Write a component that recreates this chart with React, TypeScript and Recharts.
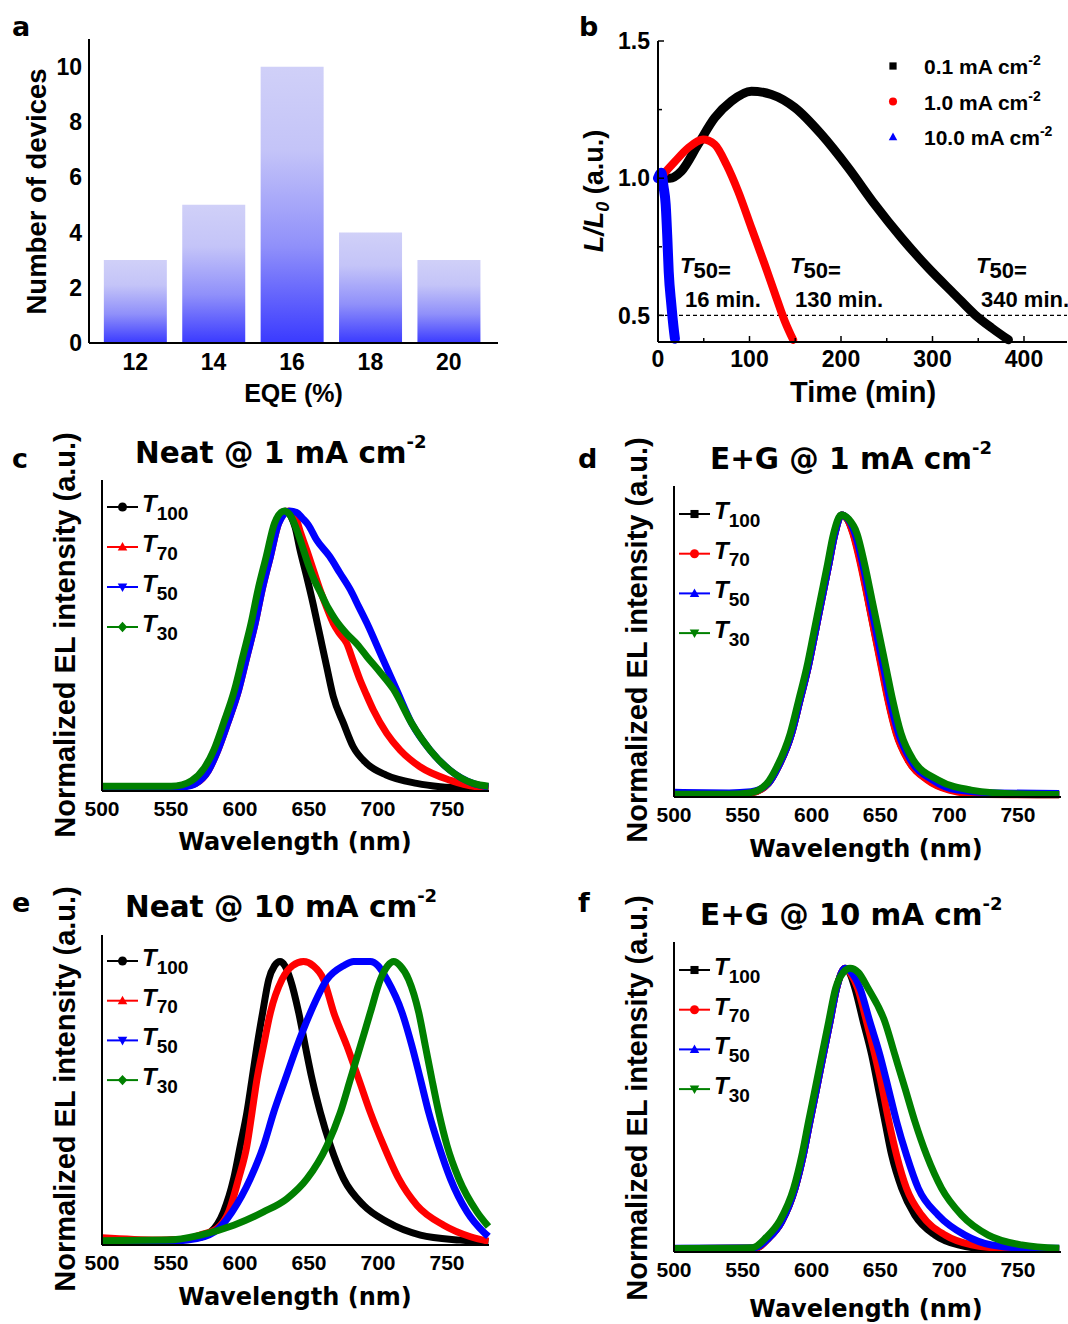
import React from 'react';
import { BarChart, Bar, LineChart, Line, XAxis, YAxis, ReferenceLine, Legend } from 'recharts';

type Pt = [number, number];
const pts = (a: Pt[]) => a.map(([x, y]) => ({ x, y }));

const ARIAL = '"Liberation Sans", Arial, Helvetica, sans-serif';
const DEJAVU = '"DejaVu Sans", Verdana, sans-serif';

// ---------------- Panel a ----------------
const eqeBins = ['12', '14', '16', '18', '20'];
const deviceCounts = [3, 5, 10, 4, 3];
const aYTicks = [0, 2, 4, 6, 8, 10];

// ---------------- Panel b ----------------
const bCurrents = ['0.1', '1.0', '10.0'];
const bColors = ['#000000', '#ff0000', '#0000ff'];
const bShapes = ['square', 'circle', 'triangleUp'];
const b01: Pt[] = [[8, 1.0], [13, 1.0], [25.6, 1.026], [43.8, 1.123], [62, 1.22], [80.3, 1.281], [102.1, 1.317], [124, 1.305], [149.6, 1.257], [178.7, 1.159], [207.9, 1.038], [237, 0.904], [266.3, 0.782], [295.4, 0.673], [324.6, 0.575], [346.5, 0.502], [364.8, 0.454], [383, 0.411]];
const b10: Pt[] = [[2, 1.0], [18.3, 1.06], [32.9, 1.11], [49.3, 1.141], [62, 1.123], [74.8, 1.05], [87.6, 0.952], [102.1, 0.819], [116.7, 0.685], [129.5, 0.563], [138.7, 0.478], [147.7, 0.411]];
const b100: Pt[] = [[0, 1.0], [3.7, 1.02], [6, 0.97], [8.4, 0.904], [10.2, 0.782], [11.7, 0.66], [14.6, 0.539], [17.5, 0.442], [18.5, 0.415]];
const bXTicks = [0, 50, 100, 150, 200, 250, 300, 350, 400];
const bYTicks = [0.5, 0.75, 1.0, 1.25, 1.5];
const bT50 = ['16 min.', '130 min.', '340 min.'];

// ---------------- Spectra (c-f) ----------------
const wlTicks = [500, 550, 600, 650, 700, 750];

const cT100: Pt[] = [[500, 0.005], [540, 0.005], [556, 0.01], [566, 0.02], [576, 0.07], [583, 0.14], [590, 0.236], [598, 0.356], [604, 0.476], [610, 0.596], [615, 0.716], [621, 0.836], [627, 0.956], [633, 1.0], [637, 0.98], [640, 0.94], [643.5, 0.86], [648, 0.77], [653, 0.665], [658, 0.55], [662.8, 0.44], [667.6, 0.332], [675, 0.236], [682, 0.152], [691.8, 0.092], [706, 0.05], [728, 0.02], [745, 0.008], [764, 0.003], [780, 0.002]];
const cT70: Pt[] = [[500, 0.005], [550, 0.005], [560, 0.01], [568, 0.02], [577, 0.065], [584, 0.14], [591, 0.236], [599, 0.356], [605, 0.476], [611, 0.596], [616, 0.716], [622, 0.836], [628, 0.956], [635, 1.0], [640, 0.98], [644, 0.92], [648.3, 0.86], [653, 0.79], [658, 0.716], [663, 0.65], [667.6, 0.596], [672, 0.56], [677.3, 0.524], [682, 0.46], [687, 0.392], [691.5, 0.34], [696.6, 0.284], [706.3, 0.2], [716, 0.14], [730.4, 0.08], [752, 0.032], [771.5, 0.008], [780, 0.004]];
const cT50: Pt[] = [[500, 0.003], [550, 0.004], [560, 0.008], [568, 0.02], [577, 0.065], [584, 0.14], [591, 0.236], [599, 0.356], [605, 0.476], [611, 0.596], [616, 0.716], [622, 0.836], [628, 0.956], [636, 1.0], [641, 0.995], [645, 0.975], [649.5, 0.95], [655.5, 0.896], [665, 0.836], [672.5, 0.776], [680, 0.716], [686, 0.656], [692, 0.596], [702.7, 0.476], [713.5, 0.356], [724.4, 0.236], [737.7, 0.14], [752, 0.068], [769, 0.02], [780, 0.008]];
const cT30: Pt[] = [[500, 0.01], [550, 0.01], [558, 0.015], [565, 0.03], [574, 0.075], [581, 0.14], [588, 0.236], [596, 0.356], [602, 0.476], [608, 0.596], [613, 0.716], [619, 0.836], [625, 0.956], [632, 1.0], [637, 0.98], [642, 0.92], [646, 0.86], [650, 0.8], [654, 0.75], [659, 0.7], [664, 0.65], [669, 0.61], [677, 0.56], [685, 0.52], [692, 0.476], [701.5, 0.42], [711, 0.36], [724.4, 0.236], [737.7, 0.14], [752, 0.068], [769, 0.02], [780, 0.01]];

const dT100: Pt[] = [[500, 0.005], [540, 0.005], [556, 0.01], [568.6, 0.044], [575.8, 0.103], [585.5, 0.222], [591.6, 0.34], [597.6, 0.459], [602.5, 0.578], [607.3, 0.696], [612.2, 0.815], [617, 0.934], [621.8, 1.0], [626, 0.985], [630.3, 0.934], [636.4, 0.815], [641.2, 0.696], [646, 0.578], [651, 0.459], [655.8, 0.34], [661.8, 0.222], [670.3, 0.127], [684.8, 0.056], [701.8, 0.02], [728, 0.005], [780, 0.003]];
const dT70: Pt[] = [[500, 0.005], [540, 0.005], [556, 0.01], [568.6, 0.044], [575.8, 0.103], [585.5, 0.222], [591.6, 0.34], [597.6, 0.459], [602.5, 0.578], [607.3, 0.696], [612.2, 0.815], [617, 0.934], [621.8, 1.0], [626, 0.985], [630, 0.934], [636, 0.815], [641, 0.696], [645.8, 0.578], [650.6, 0.459], [655.5, 0.34], [661.5, 0.222], [670, 0.127], [684, 0.056], [700, 0.02], [725, 0.004], [780, 0.003]];
const dT50: Pt[] = [[500, 0.012], [540, 0.01], [556, 0.014], [568.6, 0.044], [575.8, 0.103], [585.5, 0.222], [591.6, 0.34], [597.6, 0.459], [602.5, 0.578], [607.3, 0.696], [612.2, 0.815], [617, 0.934], [621.8, 1.0], [626.5, 0.985], [631.5, 0.934], [637.6, 0.815], [642.4, 0.696], [647.2, 0.578], [652.2, 0.459], [657, 0.34], [663.2, 0.222], [672, 0.127], [688, 0.056], [706, 0.02], [735, 0.01], [780, 0.008]];
const dT30: Pt[] = [[500, 0.005], [540, 0.005], [555, 0.01], [567.6, 0.044], [574.8, 0.103], [584.5, 0.222], [590.6, 0.34], [596.6, 0.459], [601.5, 0.578], [606.3, 0.696], [611.2, 0.815], [616, 0.934], [621.5, 1.0], [627, 0.985], [633, 0.934], [639, 0.815], [644, 0.696], [649, 0.578], [654, 0.459], [659, 0.34], [665, 0.222], [674, 0.127], [692, 0.056], [716, 0.02], [750, 0.006], [780, 0.004]];

const eT100: Pt[] = [[500, 0.005], [547, 0.012], [569, 0.02], [578.5, 0.04], [588, 0.112], [595.4, 0.23], [600.2, 0.347], [605, 0.465], [608.7, 0.583], [612.3, 0.7], [616.4, 0.819], [620.8, 0.936], [625, 0.985], [629, 1.0], [632.5, 0.985], [636.5, 0.936], [642.5, 0.819], [647.3, 0.7], [652.2, 0.583], [658.2, 0.465], [665.5, 0.347], [675, 0.23], [689.6, 0.135], [706.5, 0.077], [730.7, 0.03], [759.7, 0.012], [780, 0.005]];
const eT70: Pt[] = [[500, 0.02], [540, 0.012], [560, 0.015], [571, 0.03], [583.3, 0.053], [591.8, 0.112], [599, 0.23], [605, 0.347], [608.7, 0.465], [612.3, 0.583], [617, 0.7], [622, 0.819], [630.4, 0.936], [638, 0.985], [646, 1.0], [653, 0.985], [660.6, 0.936], [667.9, 0.819], [677.5, 0.7], [686, 0.583], [694.4, 0.465], [704.1, 0.347], [715, 0.23], [728.3, 0.135], [747.6, 0.065], [767, 0.024], [780, 0.008]];
const eT50: Pt[] = [[500, 0.005], [540, 0.006], [568.8, 0.018], [584.5, 0.053], [594.2, 0.112], [607.5, 0.23], [617.1, 0.347], [624.4, 0.465], [632.8, 0.583], [641.3, 0.7], [651, 0.819], [663, 0.936], [675, 0.985], [682.4, 1.0], [694.4, 1.0], [700, 0.985], [706.5, 0.936], [717.4, 0.819], [724.6, 0.7], [730.7, 0.583], [736.7, 0.465], [744, 0.347], [752.4, 0.23], [764.5, 0.112], [776.6, 0.04], [780, 0.025]];
const eT30: Pt[] = [[500, 0.01], [547, 0.012], [571.3, 0.03], [595.4, 0.065], [617, 0.112], [634, 0.159], [648.6, 0.23], [663, 0.347], [672.7, 0.465], [680, 0.583], [687.2, 0.7], [694.4, 0.819], [701.7, 0.936], [707, 0.985], [711.4, 1.0], [716, 0.985], [722.2, 0.936], [729.5, 0.819], [734.3, 0.7], [739, 0.583], [744, 0.465], [750, 0.347], [758.5, 0.23], [771.7, 0.112], [780, 0.06]];

const fT100: Pt[] = [[500, 0.005], [545, 0.006], [558.9, 0.006], [568.6, 0.041], [578.2, 0.1], [588, 0.219], [594, 0.337], [598.8, 0.456], [603.7, 0.574], [608.5, 0.692], [613.4, 0.81], [618.2, 0.929], [624.3, 1.0], [628, 0.98], [631.5, 0.929], [637.6, 0.81], [643.7, 0.692], [648.5, 0.574], [653.3, 0.456], [658.2, 0.337], [665.5, 0.219], [675, 0.124], [689.7, 0.053], [706.6, 0.018], [728.4, 0.004], [780, 0.003]];
const fT70: Pt[] = [[500, 0.005], [545, 0.006], [558.9, 0.006], [568.6, 0.041], [578.2, 0.1], [588, 0.219], [594, 0.337], [598.8, 0.456], [603.7, 0.574], [608.5, 0.692], [613.4, 0.81], [618.2, 0.929], [624.3, 1.0], [628.5, 0.98], [633.5, 0.929], [640, 0.81], [646, 0.692], [651.4, 0.574], [656.2, 0.456], [661.8, 0.337], [669, 0.219], [680, 0.124], [697, 0.053], [716.3, 0.018], [740, 0.005], [780, 0.003]];
const fT50: Pt[] = [[500, 0.006], [545, 0.007], [558.9, 0.008], [568.6, 0.041], [578.2, 0.1], [588, 0.219], [594, 0.337], [598.8, 0.456], [603.7, 0.574], [608.5, 0.692], [613.4, 0.81], [618.2, 0.929], [624.3, 1.0], [629, 0.985], [635.2, 0.929], [642.4, 0.81], [649.7, 0.692], [655.8, 0.574], [661.8, 0.456], [669, 0.337], [677.6, 0.219], [692, 0.124], [711.5, 0.053], [730.9, 0.018], [760, 0.006], [780, 0.006]];
const fT30: Pt[] = [[500, 0.005], [545, 0.006], [557, 0.008], [567, 0.045], [577, 0.105], [587, 0.219], [593, 0.337], [597.8, 0.456], [602.7, 0.574], [607.5, 0.692], [612.4, 0.81], [617.5, 0.929], [623, 0.985], [628, 1.0], [634, 0.985], [641, 0.929], [653.3, 0.81], [660.6, 0.692], [667.9, 0.574], [675.1, 0.456], [683.6, 0.337], [694.5, 0.219], [709, 0.124], [728.4, 0.053], [752.7, 0.018], [780, 0.006]];

type Meta = { key: string; sub: string; color: string; shape: string };
const neatMeta: Meta[] = [
  { key: 'T100', sub: '100', color: '#000000', shape: 'circle' },
  { key: 'T70', sub: '70', color: '#ff0000', shape: 'triangleUp' },
  { key: 'T50', sub: '50', color: '#0000ff', shape: 'triangleDown' },
  { key: 'T30', sub: '30', color: '#008000', shape: 'diamond' },
];
const egMeta: Meta[] = [
  { key: 'T100', sub: '100', color: '#000000', shape: 'square' },
  { key: 'T70', sub: '70', color: '#ff0000', shape: 'circle' },
  { key: 'T50', sub: '50', color: '#0000ff', shape: 'triangleUp' },
  { key: 'T30', sub: '30', color: '#008000', shape: 'triangleDown' },
];

// ---------------- helpers ----------------
const PAD = 12;
const FRAME = { stroke: '#000', strokeWidth: 2 };

function Marker({ shape, cx, cy, size, color }: { shape: string; cx: number; cy: number; size: number; color: string }) {
  const h = size / 2;
  switch (shape) {
    case 'circle':
      return <circle cx={cx} cy={cy} r={h * 0.95} fill={color} />;
    case 'square':
      return <rect x={cx - h * 0.85} y={cy - h * 0.85} width={h * 1.7} height={h * 1.7} fill={color} />;
    case 'triangleUp':
      return <polygon points={`${cx},${cy - h * 1.05} ${cx + h},${cy + h * 0.75} ${cx - h},${cy + h * 0.75}`} fill={color} />;
    case 'triangleDown':
      return <polygon points={`${cx},${cy + h * 1.05} ${cx + h},${cy - h * 0.75} ${cx - h},${cy - h * 0.75}`} fill={color} />;
    case 'diamond':
      return <polygon points={`${cx},${cy - h * 1.1} ${cx + h},${cy} ${cx},${cy + h * 1.1} ${cx - h},${cy}`} fill={color} />;
    default:
      return null;
  }
}

function makeBottomTick(o: { fontSize: number; baseline: number; majorLen?: number; minorLen?: number; isMajor?: (v: any) => boolean; fmt?: (v: any) => string }) {
  return (props: any) => {
    const { x, y, payload } = props;
    const v = payload.value;
    const major = o.isMajor ? o.isMajor(v) : true;
    const len = major ? o.majorLen || 0 : o.minorLen || 0;
    return (
      <g>
        {len > 0 ? <line x1={x} x2={x} y1={y} y2={y - len} stroke="#000" strokeWidth={1.5} /> : null}
        {major ? (
          <text x={x} y={y + o.baseline} textAnchor="middle" fontFamily={ARIAL} fontWeight="bold" fontSize={o.fontSize} fill="#000">
            {o.fmt ? o.fmt(v) : String(v)}
          </text>
        ) : null}
      </g>
    );
  };
}

function makeLeftTick(o: { fontSize: number; gap: number; majorLen?: number; minorLen?: number; isMajor?: (v: any) => boolean; fmt?: (v: any) => string }) {
  return (props: any) => {
    const { x, y, payload } = props;
    const v = payload.value;
    const major = o.isMajor ? o.isMajor(v) : true;
    const len = major ? o.majorLen || 0 : o.minorLen || 0;
    return (
      <g>
        {len > 0 ? <line x1={x} x2={x + len} y1={y} y2={y} stroke="#000" strokeWidth={1.5} /> : null}
        {major ? (
          <text x={x - o.gap} y={y} dy={o.fontSize * 0.36} textAnchor="end" fontFamily={ARIAL} fontWeight="bold" fontSize={o.fontSize} fill="#000">
            {o.fmt ? o.fmt(v) : String(v)}
          </text>
        ) : null}
      </g>
    );
  };
}

function SpectraLegend({ payload, meta, rowGap }: { payload: any[]; meta: Meta[]; rowGap: number }) {
  const order = meta.map((m) => m.key);
  const items = [...(payload || [])].sort((a, b) => order.indexOf(a.value) - order.indexOf(b.value));
  return (
    <svg width={120} height={180} style={{ display: 'block', overflow: 'visible' }}>
      {items.map((it, i) => {
        const m = meta.find((mm) => mm.key === it.value) as Meta;
        const cy = 20 + i * rowGap;
        return (
          <g key={it.value}>
            <line x1={5} x2={36} y1={cy} y2={cy} stroke={it.color} strokeWidth={2} />
            <Marker shape={m.shape} cx={20.5} cy={cy} size={9.5} color={it.color} />
            <text x={40} y={cy + 5} fontFamily={ARIAL} fontWeight="bold" fontStyle="italic" fontSize={24} fill="#000">
              T
              <tspan fontStyle="normal" fontSize={19} dy={7.5}>
                {m.sub}
              </tspan>
            </text>
          </g>
        );
      })}
    </svg>
  );
}

function BLegend({ payload }: { payload: any[] }) {
  const items = [...(payload || [])].sort((a, b) => bCurrents.indexOf(a.value) - bCurrents.indexOf(b.value));
  return (
    <svg width={195} height={110} style={{ display: 'block', overflow: 'visible' }}>
      {items.map((it, i) => {
        const cy = 16 + i * 35.5;
        const idx = bCurrents.indexOf(it.value);
        return (
          <g key={it.value}>
            <Marker shape={bShapes[idx]} cx={13} cy={cy} size={8.5} color={it.color} />
            <text x={44} y={cy + 8} fontFamily={ARIAL} fontWeight="bold" fontSize={21} fill="#000">
              {`${it.value} mA cm`}
              <tspan fontSize={14} dy={-9}>
                -2
              </tspan>
            </text>
          </g>
        );
      })}
    </svg>
  );
}

type SpecProps = {
  pl: number; pt: number; pr: number; pb: number;
  xMax: number; yDomain: [number, number];
  meta: Meta[]; series: Pt[][];
  legendX: number; legendY: number; rowGap: number;
};

function SpectrumPanel(p: SpecProps) {
  const YW = 40;
  const XH = 40;
  const left = p.pl - YW;
  const top = p.pt - PAD;
  const width = p.pr - p.pl + YW + PAD;
  const height = p.pb - p.pt + PAD + XH;
  return (
    <div style={{ position: 'absolute', left, top }}>
      <LineChart width={width} height={height} margin={{ top: PAD, right: PAD, left: 0, bottom: 0 }}>
        <XAxis xAxisId="b" type="number" dataKey="x" domain={[500, p.xMax]} ticks={wlTicks} interval={0}
          tickSize={0} tickMargin={0} tickLine={false} axisLine={FRAME} height={XH}
          tick={makeBottomTick({ fontSize: 21, baseline: 25 })} />
        <XAxis xAxisId="t" orientation="top" type="number" domain={[500, p.xMax]} height={0} tick={false} tickLine={false} axisLine={FRAME} />
        <YAxis yAxisId="l" type="number" domain={p.yDomain} width={YW} tick={false} tickLine={false} axisLine={FRAME} />
        <YAxis yAxisId="r" orientation="right" type="number" domain={p.yDomain} width={0} tick={false} tickLine={false} axisLine={FRAME} />
        {p.meta.map((m, i) => (
          <Line key={m.key} xAxisId="b" yAxisId="l" data={pts(p.series[i])} dataKey="y" name={m.key}
            stroke={m.color} strokeWidth={7} strokeLinejoin="round" dot={false} type="monotone"
            isAnimationActive={false} legendType="line" />
        ))}
        <Legend layout="vertical" align="center" verticalAlign="middle"
          wrapperStyle={{ left: p.legendX - 5 - left, top: p.legendY - 20 - top, width: 120, height: 180 }}
          content={(props: any) => <SpectraLegend payload={props.payload} meta={p.meta} rowGap={p.rowGap} />} />
      </LineChart>
    </div>
  );
}

function PanelA() {
  const pl = 89, pt = 39, pr = 498, pb = 343;
  const YW = 70, XH = 40;
  const left = pl - YW, top = pt - PAD;
  const data = eqeBins.map((b, i) => ({ eqe: b, count: deviceCounts[i] }));
  return (
    <div style={{ position: 'absolute', left, top }}>
      <BarChart width={pr - pl + YW + PAD} height={pb - pt + PAD + XH} data={data}
        margin={{ top: PAD, right: PAD, left: 0, bottom: 0 }} barCategoryGap="10%">
        <defs>
          <linearGradient id="barGrad" x1="0" y1="0" x2="0" y2="1">
            <stop offset="0%" stopColor="#d0d0f8" />
            <stop offset="30%" stopColor="#c4c4f8" />
            <stop offset="65%" stopColor="#9090fa" />
            <stop offset="100%" stopColor="#3a3aff" />
          </linearGradient>
        </defs>
        <XAxis xAxisId="b" dataKey="eqe" type="category" padding={{ left: 7, right: 10 }} interval={0}
          tickSize={0} tickMargin={0} tickLine={false} axisLine={FRAME} height={XH}
          tick={makeBottomTick({ fontSize: 23, baseline: 27 })} />
        <XAxis xAxisId="t" orientation="top" dataKey="eqe" height={0} tick={false} tickLine={false} axisLine={FRAME} />
        <YAxis yAxisId="l" type="number" domain={[0, 11]} ticks={aYTicks} interval={0} width={YW}
          tickSize={0} tickMargin={0} tickLine={false} axisLine={FRAME}
          tick={makeLeftTick({ fontSize: 23, gap: 7 })} />
        <YAxis yAxisId="r" orientation="right" type="number" domain={[0, 11]} width={0} tick={false} tickLine={false} axisLine={FRAME} />
        <Bar xAxisId="b" yAxisId="l" dataKey="count" fill="url(#barGrad)" isAnimationActive={false} />
      </BarChart>
    </div>
  );
}

function PanelB() {
  const pl = 658, pt = 41, pr = 1067, pb = 342;
  const YW = 70, XH = 40;
  const left = pl - YW, top = pt - PAD;
  const series = [b01, b10, b100];
  const widths = [9, 8, 10];
  return (
    <div style={{ position: 'absolute', left, top }}>
      <LineChart width={pr - pl + YW + PAD} height={pb - pt + PAD + XH} margin={{ top: PAD, right: PAD, left: 0, bottom: 0 }}>
        <XAxis xAxisId="b" type="number" dataKey="x" domain={[0, 447]} ticks={bXTicks} interval={0}
          tickSize={0} tickMargin={0} tickLine={false} axisLine={FRAME} height={XH}
          tick={makeBottomTick({ fontSize: 23, baseline: 25, majorLen: 6, minorLen: 4, isMajor: (v) => v % 100 === 0 })} />
        <XAxis xAxisId="t" orientation="top" type="number" domain={[0, 447]} height={0} tick={false} tickLine={false} axisLine={FRAME} />
        <YAxis yAxisId="l" type="number" domain={[0.403, 1.5]} ticks={bYTicks} interval={0} width={YW}
          tickSize={0} tickMargin={0} tickLine={false} axisLine={FRAME}
          tick={makeLeftTick({ fontSize: 23, gap: 8, majorLen: 6, minorLen: 4, isMajor: (v) => Math.abs(v * 2 - Math.round(v * 2)) < 1e-6, fmt: (v) => Number(v).toFixed(1) })} />
        <YAxis yAxisId="r" orientation="right" type="number" domain={[0.403, 1.5]} width={0} tick={false} tickLine={false} axisLine={FRAME} />
        <ReferenceLine xAxisId="b" yAxisId="l" y={0.5} stroke="#000" strokeWidth={1.2} strokeDasharray="4 3" />
        {series.map((s, i) => (
          <Line key={bCurrents[i]} xAxisId="b" yAxisId="l" data={pts(s)} dataKey="y" name={bCurrents[i]}
            stroke={bColors[i]} strokeWidth={widths[i]} strokeLinejoin="round" strokeLinecap="round" dot={false}
            type="monotone" isAnimationActive={false} />
        ))}
        <Legend layout="vertical" align="center" verticalAlign="middle"
          wrapperStyle={{ left: 880 - left, top: 50 - top, width: 195, height: 110 }}
          content={(props: any) => <BLegend payload={props.payload} />} />
      </LineChart>
    </div>
  );
}

function T50Label({ x, y, text }: { x: number; y: number; text: string }) {
  return (
    <g fontFamily={ARIAL} fontWeight="bold" fill="#000">
      <text x={x} y={y} fontSize={22} fontStyle="italic">
        T
        <tspan fontStyle="normal" dy={5}>50=</tspan>
      </text>
      <text x={x + 5} y={y + 34} fontSize={22}>{text}</text>
    </g>
  );
}

function Title({ x, y, text }: { x: number; y: number; text: string }) {
  return (
    <text x={x} y={y} fontFamily={DEJAVU} fontWeight="bold" fontSize={29.5} fill="#000">
      {text}
      <tspan fontSize={18} dy={-15}>-2</tspan>
    </text>
  );
}

function YTitle({ x, y }: { x: number; y: number }) {
  return (
    <text x={x} y={y} transform={`rotate(-90 ${x} ${y})`} textAnchor="middle" fontFamily={ARIAL} fontWeight="bold" fontSize={29} fill="#000">
      Normalized EL intensity (a.u.)
    </text>
  );
}

function XTitle({ x, y }: { x: number; y: number }) {
  return (
    <text x={x} y={y} textAnchor="middle" fontFamily={DEJAVU} fontWeight="bold" fontSize={24} fill="#000">
      Wavelength (nm)
    </text>
  );
}

function Letter({ x, y, t }: { x: number; y: number; t: string }) {
  return (
    <text x={x} y={y} fontFamily={DEJAVU} fontWeight="bold" fontSize={27} fill="#000">{t}</text>
  );
}

export default function App() {
  return (
    <div style={{ position: 'absolute', left: 0, top: 0, width: 1068, height: 1324, overflow: 'hidden', background: '#fff' }}>
      <PanelA />
      <PanelB />
      <SpectrumPanel pl={102} pt={480} pr={489} pb={791} xMax={780.4} yDomain={[-0.0072, 1.1115]}
        meta={neatMeta} series={[cT100, cT70, cT50, cT30]} legendX={107} legendY={507} rowGap={40} />
      <SpectrumPanel pl={674} pt={486} pr={1061} pb={797} xMax={781.3} yDomain={[-0.0046, 1.1033]}
        meta={egMeta} series={[dT100, dT70, dT50, dT30]} legendX={679} legendY={514} rowGap={39.7} />
      <SpectrumPanel pl={102} pt={935} pr={489} pb={1245} xMax={780.4} yDomain={[-0.0053, 1.094]}
        meta={neatMeta} series={[eT100, eT70, eT50, eT30]} legendX={107} legendY={961} rowGap={39.7} />
      <SpectrumPanel pl={674} pt={942} pr={1061} pb={1252} xMax={781.3} yDomain={[-0.0071, 1.0934]}
        meta={egMeta} series={[fT100, fT70, fT50, fT30]} legendX={679} legendY={970} rowGap={39.7} />

      <svg width={1068} height={1324} style={{ position: 'absolute', left: 0, top: 0, pointerEvents: 'none' }}>
        {/* panel a */}
        <Letter x={12} y={36} t="a" />
        <text x={46} y={191.5} transform="rotate(-90 46 191.5)" textAnchor="middle" fontFamily={ARIAL} fontWeight="bold" fontSize={27.5} fill="#000">
          Number of devices
        </text>
        <text x={293.5} y={402} textAnchor="middle" fontFamily={ARIAL} fontWeight="bold" fontSize={25} fill="#000">EQE (%)</text>

        {/* panel b */}
        <Letter x={579} y={36} t="b" />
        <text x={603} y={191} transform="rotate(-90 603 191)" textAnchor="middle" fontFamily={ARIAL} fontWeight="bold" fontSize={27} fill="#000">
          <tspan fontStyle="italic">L/L</tspan>
          <tspan fontStyle="italic" fontSize={18} dy={6}>0</tspan>
          <tspan dy={-6}> (a.u.)</tspan>
        </text>
        <text x={863} y={402} textAnchor="middle" fontFamily={ARIAL} fontWeight="bold" fontSize={29} fill="#000">Time (min)</text>
        <T50Label x={680} y={273} text={bT50[0]} />
        <T50Label x={790} y={273} text={bT50[1]} />
        <T50Label x={976} y={273} text={bT50[2]} />

        {/* panel c */}
        <Letter x={12} y={468} t="c" />
        <Title x={135} y={463} text="Neat @ 1 mA cm" />
        <YTitle x={75} y={635} />
        <XTitle x={295} y={850} />

        {/* panel d */}
        <Letter x={578} y={468} t="d" />
        <Title x={710} y={469} text="E+G @ 1 mA cm" />
        <YTitle x={647} y={640} />
        <XTitle x={866} y={857} />

        {/* panel e */}
        <Letter x={12} y={912} t="e" />
        <Title x={125} y={917} text="Neat @ 10 mA cm" />
        <YTitle x={75} y={1089} />
        <XTitle x={295} y={1305} />

        {/* panel f */}
        <Letter x={578} y={912} t="f" />
        <Title x={700} y={925} text="E+G @ 10 mA cm" />
        <YTitle x={647} y={1098} />
        <XTitle x={866} y={1317} />
      </svg>
    </div>
  );
}
